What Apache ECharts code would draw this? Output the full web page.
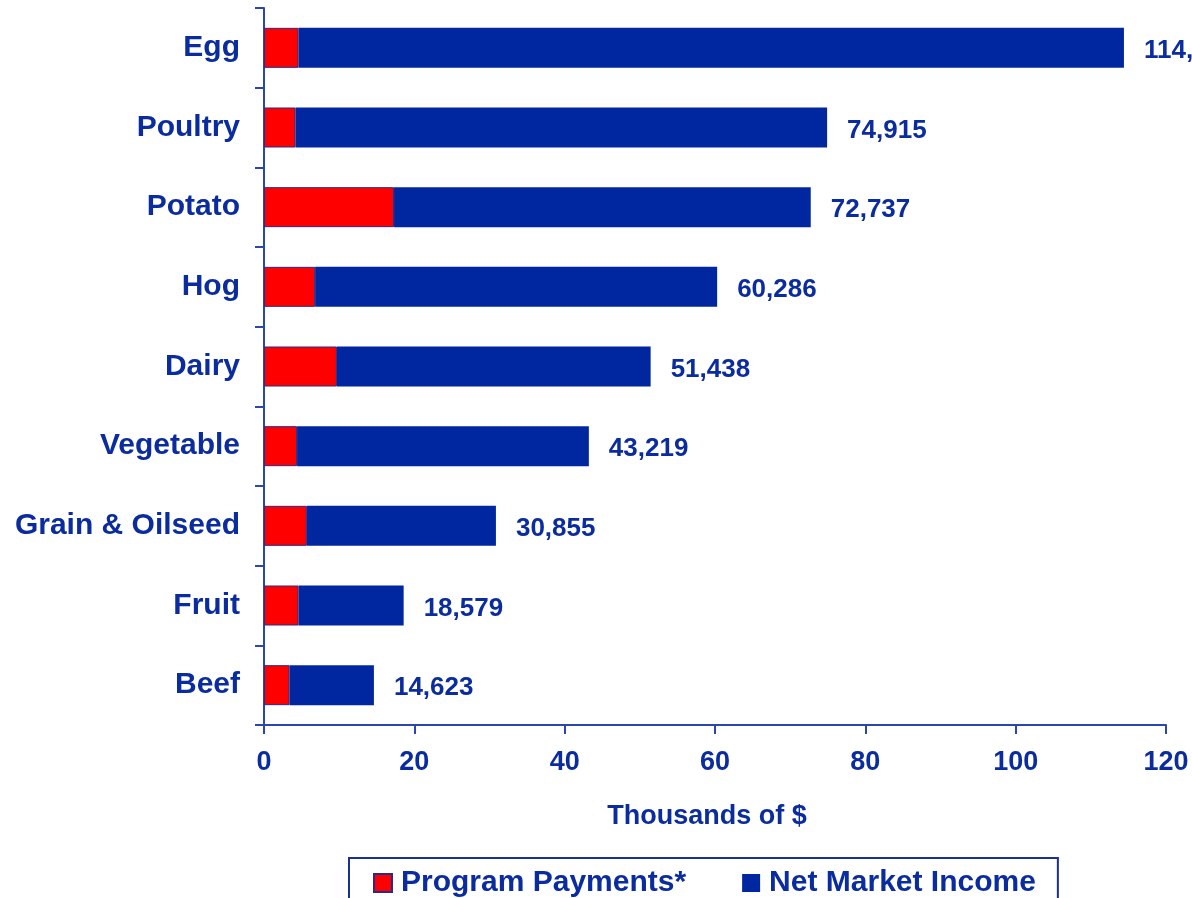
<!DOCTYPE html>
<html>
<head>
<meta charset="utf-8">
<script src="https://cdn.jsdelivr.net/npm/echarts@6/dist/echarts.min.js"></script>
<style>
  html, body { margin: 0; padding: 0; background: #ffffff; }
  #chart { width: 1192px; height: 898px; }
</style>
</head>
<body>
<div id="chart"></div>
<script>
// Farm income by enterprise type (thousands of dollars)
const categories = ['Egg', 'Poultry', 'Potato', 'Hog', 'Dairy', 'Vegetable', 'Grain & Oilseed', 'Fruit', 'Beef'];
// Total income per farm, dollars (shown as bar-end labels)
const totalIncome = [114406, 74915, 72737, 60286, 51438, 43219, 30855, 18579, 14623];
// Program payments, thousands of dollars
const programPayments = [4.6, 4.2, 17.3, 6.8, 9.7, 4.4, 5.7, 4.6, 3.4];
// Axis ticks
const xTicks = { min: 0, max: 120, interval: 20 };
const seriesNames = ['Program Payments*', 'Net Market Income'];

// Net market income is the remainder of the total after program payments
const netMarketIncome = totalIncome.map((t, i) => +(t / 1000 - programPayments[i]).toFixed(3));

const navy = '#0b2c9e';
const barBlue = '#0027a0';
const axisBlue = '#2a46b0';
const font = '"Liberation Sans", Arial, sans-serif';

const chart = echarts.init(document.getElementById('chart'));
chart.setOption({
  animation: false,
  backgroundColor: '#ffffff',
  grid: { left: 264, right: 26, top: 8, bottom: 173, containLabel: false },
  xAxis: {
    type: 'value',
    min: xTicks.min,
    max: xTicks.max,
    interval: xTicks.interval,
    name: 'Thousands of $',
    nameLocation: 'middle',
    nameGap: 78,
    nameTextStyle: {
      color: navy, fontFamily: font, fontWeight: 'bold', fontSize: 27,
      padding: [0, 16, 0, 0]
    },
    axisLine: { show: true, lineStyle: { color: axisBlue, width: 2 } },
    axisTick: { show: true, length: 9, lineStyle: { color: axisBlue, width: 2 } },
    axisLabel: { color: navy, fontFamily: font, fontWeight: 'bold', fontSize: 27, margin: 24 },
    splitLine: { show: false }
  },
  yAxis: {
    type: 'category',
    data: categories,
    inverse: true,
    axisLine: { show: true, lineStyle: { color: axisBlue, width: 2 } },
    axisTick: { show: true, length: 9, lineStyle: { color: axisBlue, width: 2 } },
    axisLabel: { color: navy, fontFamily: font, fontWeight: 'bold', fontSize: 30, margin: 24 }
  },
  legend: {
    data: seriesNames,
    left: 349,
    top: 858,
    orient: 'horizontal',
    icon: 'rect',
    itemWidth: 18,
    itemHeight: 18,
    itemGap: 56,
    borderColor: '#1a2f8f',
    borderWidth: 2,
    padding: [10, 22, 30, 24],
    textStyle: {
      color: navy, fontFamily: font, fontWeight: 'bold', fontSize: 30,
      padding: [0, 0, 0, 4]
    }
  },
  series: [
    {
      name: seriesNames[0],
      type: 'bar',
      stack: 'income',
      barWidth: 40,
      data: programPayments,
      itemStyle: { color: '#ff0000', borderColor: '#2a2a8a', borderWidth: 1 }
    },
    {
      name: seriesNames[1],
      type: 'bar',
      stack: 'income',
      barWidth: 40,
      data: netMarketIncome,
      itemStyle: { color: barBlue },
      label: {
        show: true,
        position: 'right',
        distance: 20,
        offset: [0, 3],
        color: navy,
        fontFamily: font,
        fontWeight: 'bold',
        fontSize: 26,
        formatter: p => totalIncome[p.dataIndex].toLocaleString('en-US')
      }
    }
  ]
});
</script>
</body>
</html>
